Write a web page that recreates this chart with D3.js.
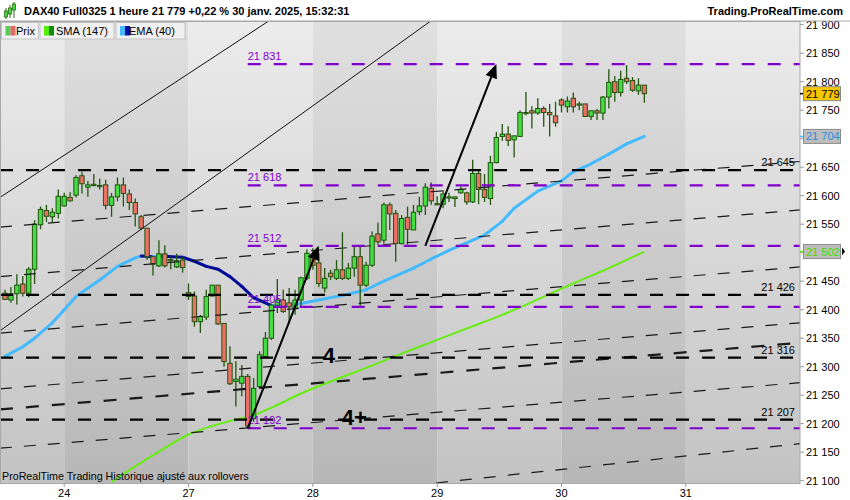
<!DOCTYPE html>
<html><head><meta charset="utf-8">
<script src="https://cdn.jsdelivr.net/npm/d3@7"></script>
<style>body{margin:0;background:#fff}svg{display:block;font-family:"Liberation Sans",Arial,sans-serif}</style>
</head><body><svg id="c" width="850" height="500"></svg>
<script>
// ---------- data ----------
const dayLabels = ["24","27","28","29","30","31"];
const dayStarts = [10,31,52,73,94,115];          // bar index of first hourly bar of each day
const opens  = [21429,21417,21428,21445,21429,21471,21549,21574,21563,21569,21582,21597,21601,21635,21615,21619,21618,21619,21583,21598,21619,21603,21588,21563,21543,21493,21477,21498,21488,21475,21487,21430,21424,21379,21387,21424,21443,21376,21306,21274,21271,21283,21209,21265,21318,21350,21408,21417,21412,21403,21417,21455,21495,21482,21438,21464,21455,21470,21455,21473,21493,21443,21478,21533,21522,21584,21569,21516,21562,21540,21572,21582,21613,21586,21585,21597,21595,21605,21605,21589,21639,21611,21595,21658,21704,21708,21698,21704,21745,21749,21745,21753,21746,21740,21768,21756,21771,21761,21761,21739,21749,21745,21773,21800,21781,21806,21802,21784,21794];
const highs  = [21435,21440,21462,21459,21475,21557,21581,21584,21578,21611,21605,21606,21636,21642,21626,21638,21630,21628,21605,21632,21632,21611,21595,21566,21543,21494,21522,21513,21493,21498,21493,21446,21432,21391,21435,21443,21443,21376,21336,21310,21303,21287,21280,21327,21361,21411,21454,21435,21438,21435,21458,21506,21508,21499,21473,21470,21487,21536,21482,21510,21513,21484,21537,21553,21588,21588,21575,21566,21581,21584,21598,21622,21623,21599,21610,21605,21598,21616,21607,21663,21645,21638,21670,21712,21726,21722,21705,21750,21782,21757,21771,21757,21761,21765,21771,21774,21781,21765,21761,21749,21752,21775,21822,21810,21819,21829,21808,21806,21794];
const lows   = [21417,21412,21409,21423,21422,21445,21541,21554,21552,21560,21581,21590,21597,21604,21598,21616,21611,21576,21563,21590,21581,21575,21546,21540,21487,21460,21475,21474,21471,21473,21465,21417,21370,21359,21382,21423,21373,21300,21268,21230,21248,21192,21203,21262,21315,21347,21394,21394,21379,21391,21405,21452,21470,21440,21430,21452,21452,21452,21452,21458,21405,21440,21475,21514,21516,21540,21484,21514,21514,21540,21566,21566,21584,21584,21578,21589,21580,21604,21584,21587,21585,21589,21584,21657,21696,21687,21667,21704,21741,21718,21742,21721,21704,21721,21746,21746,21746,21750,21739,21733,21733,21733,21753,21765,21774,21796,21782,21777,21763];
const closes = [21418,21428,21443,21429,21471,21550,21576,21564,21571,21599,21599,21591,21632,21621,21619,21620,21618,21583,21598,21619,21604,21588,21568,21543,21493,21480,21498,21477,21487,21486,21474,21423,21379,21388,21423,21443,21375,21309,21270,21278,21283,21196,21262,21321,21350,21408,21417,21397,21405,21417,21456,21499,21478,21446,21455,21458,21470,21455,21473,21493,21443,21478,21529,21519,21584,21568,21516,21560,21541,21571,21582,21615,21591,21585,21603,21598,21598,21611,21589,21639,21611,21597,21658,21702,21708,21697,21705,21746,21746,21745,21753,21746,21742,21728,21759,21766,21756,21761,21739,21749,21745,21773,21799,21781,21804,21800,21785,21794,21779];
const yTicks = d3.range(21100, 21901, 50);
// moving averages: [bar index, value]
const ema40  = [[0,21318],[3,21335],[5,21350],[8,21377],[10,21400],[12,21423],[16,21452],[19,21476],[22,21491],[23,21494],[25,21493],[26,21494],[30,21492],[32,21485],[34,21476],[36,21471],[38,21458],[40,21441],[42,21421],[45,21407],[48,21408],[50,21411],[53,21417],[58,21427],[61,21435],[64,21450],[69,21473],[72,21489],[75,21504],[81,21531],[84,21555],[86,21578],[90,21608],[94,21626],[96,21642],[99,21656],[102,21673],[105,21691],[108,21704]];
const sma147 = [[18,21098],[22,21125],[26,21151],[31,21181],[35,21196],[38,21205],[42,21215],[45,21228],[50,21253],[56,21278],[62,21302],[67,21323],[73,21347],[78,21367],[84,21391],[90,21418],[96,21446],[102,21473],[108,21502]];
const blackLevels  = [21645, 21426, 21316, 21207];
const purpleLevels = [21831, 21618, 21512, 21405, 21192];
const purpleStart = 41;
// sloped dashed lines: [[index, price],[index, price], thick]
const slopedLines = [
  [[-0.85,21545],[134.3,21660],0],
  [[-0.85,21458],[134.3,21575],0],
  [[-0.85,21359],[134.3,21475],0],
  [[-0.85,21261],[134.3,21377],0],
  [[-0.85,21225],[134.3,21342],1],
  [[-0.85,21157],[134.3,21272],0],
  [[72.8,21096],[134.3,21165],0]
];
const solidLines = [
  [[-0.85,21597],[49.9,21943]],
  [[-0.85,21363],[76.8,21943]]
];
const arrows = [[[41,21192],[53,21512]],[[71,21512],[83,21831]]];
const lastPrice = 21779, emaLast = 21704, smaLast = 21502;

// ---------- layout ----------
const svg = d3.select("#c");
const W = 850, H = 500, L = 0, R = 800, T = 21, B = 483;
const x = d3.scaleLinear().domain([0, 115]).range([5, 5 + 115 * 5.92]);
const y = d3.scaleLinear().domain([21100, 21900]).range([480.7, 24.7]);
const fmt = v => { const s = String(Math.round(v)); return s.slice(0, s.length - 3) + " " + s.slice(-3); };

const defs = svg.append("defs");
function grad(id, c1, c2) {
  const g = defs.append("linearGradient").attr("id", id).attr("gradientUnits", "userSpaceOnUse")
    .attr("x1", 0).attr("y1", T).attr("x2", 0).attr("y2", B);
  g.append("stop").attr("offset", 0).attr("stop-color", c1);
  g.append("stop").attr("offset", 1).attr("stop-color", c2);
}
grad("gLight", "#ececec", "#c3c3c3");
grad("gDark", "#e0e0e0", "#b7b7b7");
defs.append("clipPath").attr("id", "clip").append("rect").attr("x", L).attr("y", T).attr("width", R - L).attr("height", B - T);

svg.append("rect").attr("width", W).attr("height", H).attr("fill", "#fff");

// background day bands
const edges = [-10].concat(dayStarts).concat([140]);
const plot = svg.append("g").attr("clip-path", "url(#clip)");
for (let k = 0; k < edges.length - 1; k++) {
  const x0 = Math.max(L, x(edges[k])), x1 = Math.min(R, x(edges[k + 1]));
  plot.append("rect").attr("x", x0).attr("y", T).attr("width", Math.max(0, x1 - x0)).attr("height", B - T)
    .attr("fill", k % 2 === 0 ? "url(#gLight)" : "url(#gDark)");
}

// moving averages
const ln = d3.line().x(d => x(d[0])).y(d => y(d[1])).curve(d3.curveMonotoneX);
plot.append("path").attr("d", ln(sma147)).attr("fill", "none").attr("stroke", "#66ee11").attr("stroke-width", 2);
for (let k = 0; k < ema40.length - 1; k++) {
  const a = ema40[k], b = ema40[k + 1];
  plot.append("path").attr("d", d3.line().x(d => x(d[0])).y(d => y(d[1]))([a, b]))
    .attr("fill", "none").attr("stroke", b[1] < a[1] ? "#000a96" : "#44bbff")
    .attr("stroke-width", 3).attr("stroke-linecap", "round");
}

// candles
const idx = d3.range(opens.length);
const cg = plot.append("g");
cg.selectAll("line").data(idx).join("line")
  .attr("x1", i => x(i)).attr("x2", i => x(i))
  .attr("y1", i => y(highs[i])).attr("y2", i => y(lows[i]))
  .attr("stroke", "#22550e").attr("stroke-width", 1.3);
cg.selectAll("rect").data(idx).join("rect")
  .attr("x", i => x(i) - 2.2).attr("width", 4.4)
  .attr("y", i => y(Math.max(opens[i], closes[i])))
  .attr("height", i => Math.max(1.2, Math.abs(y(opens[i]) - y(closes[i]))))
  .attr("fill", i => closes[i] >= opens[i] ? "#44dd44" : "#ee6f66")
  .attr("stroke", "#22550e").attr("stroke-width", 1);

// solid channel lines
solidLines.forEach(s => plot.append("line")
  .attr("x1", x(s[0][0])).attr("y1", y(s[0][1])).attr("x2", x(s[1][0])).attr("y2", y(s[1][1]))
  .attr("stroke", "#111").attr("stroke-width", 1));
// sloped dashed lines
slopedLines.forEach(s => plot.append("line")
  .attr("x1", x(s[0][0])).attr("y1", y(s[0][1])).attr("x2", x(s[1][0])).attr("y2", y(s[1][1]))
  .attr("stroke", "#1a1a1a").attr("stroke-width", s[2] ? 2.2 : 1.2)
  .attr("stroke-dasharray", s[2] ? "13,13" : "12,12"));
// horizontal levels
blackLevels.forEach(v => {
  plot.append("line").attr("x1", L).attr("x2", R).attr("y1", y(v)).attr("y2", y(v))
    .attr("stroke", "#000").attr("stroke-width", 2.2).attr("stroke-dasharray", "13,13");
  plot.append("text").attr("x", 795).attr("y", y(v) - 4).attr("text-anchor", "end")
    .attr("font-size", 11).attr("fill", "#000").text(fmt(v));
});
purpleLevels.forEach(v => {
  plot.append("line").attr("x1", x(purpleStart)).attr("x2", R).attr("y1", y(v)).attr("y2", y(v))
    .attr("stroke", "#8000cc").attr("stroke-width", 2.2).attr("stroke-dasharray", "13,13");
  plot.append("text").attr("x", x(purpleStart)).attr("y", y(v) - 4)
    .attr("font-size", 11).attr("fill", "#8000cc").text(fmt(v));
});
// arrows
arrows.forEach(a => {
  const x1 = x(a[0][0]), y1 = y(a[0][1]), x2 = x(a[1][0]), y2 = y(a[1][1]);
  const ang = Math.atan2(y2 - y1, x2 - x1), hl = 14, hw = 6;
  const bx = x2 - hl * Math.cos(ang), by = y2 - hl * Math.sin(ang);
  plot.append("line").attr("x1", x1).attr("y1", y1).attr("x2", bx).attr("y2", by)
    .attr("stroke", "#000").attr("stroke-width", 2);
  const px = -Math.sin(ang) * hw, py = Math.cos(ang) * hw;
  plot.append("path").attr("d", `M${x2},${y2}L${bx + px},${by + py}L${bx - px},${by - py}Z`).attr("fill", "#000");
});
// wave labels
plot.append("text").attr("x", x(54.7)).attr("y", y(21306)).attr("text-anchor", "middle")
  .attr("font-size", 22).attr("font-weight", "bold").text("4");
plot.append("text").attr("x", x(56.9)).attr("y", y(21198))
  .attr("font-size", 22).attr("font-weight", "bold").text("4+");
plot.append("text").attr("x", 2).attr("y", 480).attr("font-size", 10.7).attr("fill", "#000")
  .text("ProRealTime Trading  Historique ajusté aux rollovers");

// frame
svg.append("rect").attr("x", 0.5).attr("y", T + 0.5).attr("width", R - 0.5).attr("height", B - T)
  .attr("fill", "none").attr("stroke", "#a8a8a8");

// right axis
const boxes = [lastPrice, emaLast, smaLast];
const ax = svg.append("g");
yTicks.forEach(v => {
  ax.append("line").attr("x1", R).attr("x2", R + 4).attr("y1", y(v)).attr("y2", y(v)).attr("stroke", "#999");
  if (boxes.some(b => Math.abs(y(b) - y(v)) < 10)) return;   // label hidden behind a value box
  ax.append("text").attr("x", 806).attr("y", y(v) + 4).attr("font-size", 11).text(fmt(v));
});
function valueBox(v, fill, tcol, tick) {
  const yy = y(v);
  ax.append("line").attr("x1", R).attr("x2", R + 4).attr("y1", yy).attr("y2", yy).attr("stroke", tick).attr("stroke-width", 1.5);
  ax.append("rect").attr("x", 803.5).attr("y", yy - 7).attr("width", 37).attr("height", 14)
    .attr("fill", fill).attr("stroke", "#8a8a8a");
  ax.append("text").attr("x", 806).attr("y", yy + 4).attr("font-size", 11).attr("fill", tcol).text(fmt(v));
}
valueBox(lastPrice, "#f7c600", "#000", "#000");
valueBox(emaLast, "#bdbdbd", "#2a8ee0", "#44bbff");
valueBox(smaLast, "#bdbdbd", "#44dd00", "#66ee11");
ax.append("path").attr("d", `M842,${y(smaLast) - 4}L845,${y(smaLast)}L842,${y(smaLast) + 4}Z`).attr("fill", "#000");

// bottom axis
dayStarts.forEach((d, k) => {
  svg.append("line").attr("x1", x(d)).attr("x2", x(d)).attr("y1", B).attr("y2", B + 4).attr("stroke", "#999");
  svg.append("text").attr("x", x(d)).attr("y", 497).attr("text-anchor", "middle").attr("font-size", 11).text(dayLabels[k]);
});

// header
svg.append("line").attr("x1", 0).attr("x2", W).attr("y1", T).attr("y2", T).attr("stroke", "#a8a8a8");
const ic = svg.append("g");
[[6, 11, 15, 8, 13, 6], [10, 8, 15, 5, 12, 6], [14, 4, 10, 2, 12, 6]].forEach(c => {
  ic.append("line").attr("x1", c[0]).attr("x2", c[0]).attr("y1", c[3]).attr("y2", c[4] + 6).attr("stroke", "#2a6a10");
  ic.append("rect").attr("x", c[0] - 1.5).attr("y", c[1]).attr("width", 3).attr("height", c[5])
    .attr("fill", "#44dd44").attr("stroke", "#2a6a10").attr("stroke-width", 0.8);
});
svg.append("text").attr("x", 24).attr("y", 15).attr("font-size", 11).attr("font-weight", "bold")
  .text("DAX40 Full0325 1 heure 21 779 +0,22 % 30 janv. 2025, 15:32:31");
svg.append("text").attr("x", 843).attr("y", 15).attr("text-anchor", "end").attr("font-size", 11).attr("font-weight", "bold")
  .text("Trading.ProRealTime.com");
// legend
const legend = [
  {x0: 1.5, w: 37, c1: "#55cc55", c2: "#e06868", label: "Prix", tx: 16},
  {x0: 40, w: 74, c1: "#55ee00", c2: "#118811", label: "SMA (147)", tx: 56},
  {x0: 116, w: 69, c1: "#44bbff", c2: "#0011aa", label: "EMA (40)", tx: 129}
];
legend.forEach(l => {
  svg.append("rect").attr("x", l.x0).attr("y", 22.5).attr("width", l.w).attr("height", 16.5)
    .attr("fill", "#f0f0f0").attr("stroke", "#c4c4c4");
  svg.append("rect").attr("x", l.x0 + 4).attr("y", 26).attr("width", 5).attr("height", 9.5).attr("fill", l.c1);
  svg.append("rect").attr("x", l.x0 + 9).attr("y", 26).attr("width", 5).attr("height", 9.5).attr("fill", l.c2);
  svg.append("text").attr("x", l.tx).attr("y", 35).attr("font-size", 11).attr("fill", "#000").text(l.label);
});
</script></body></html>
